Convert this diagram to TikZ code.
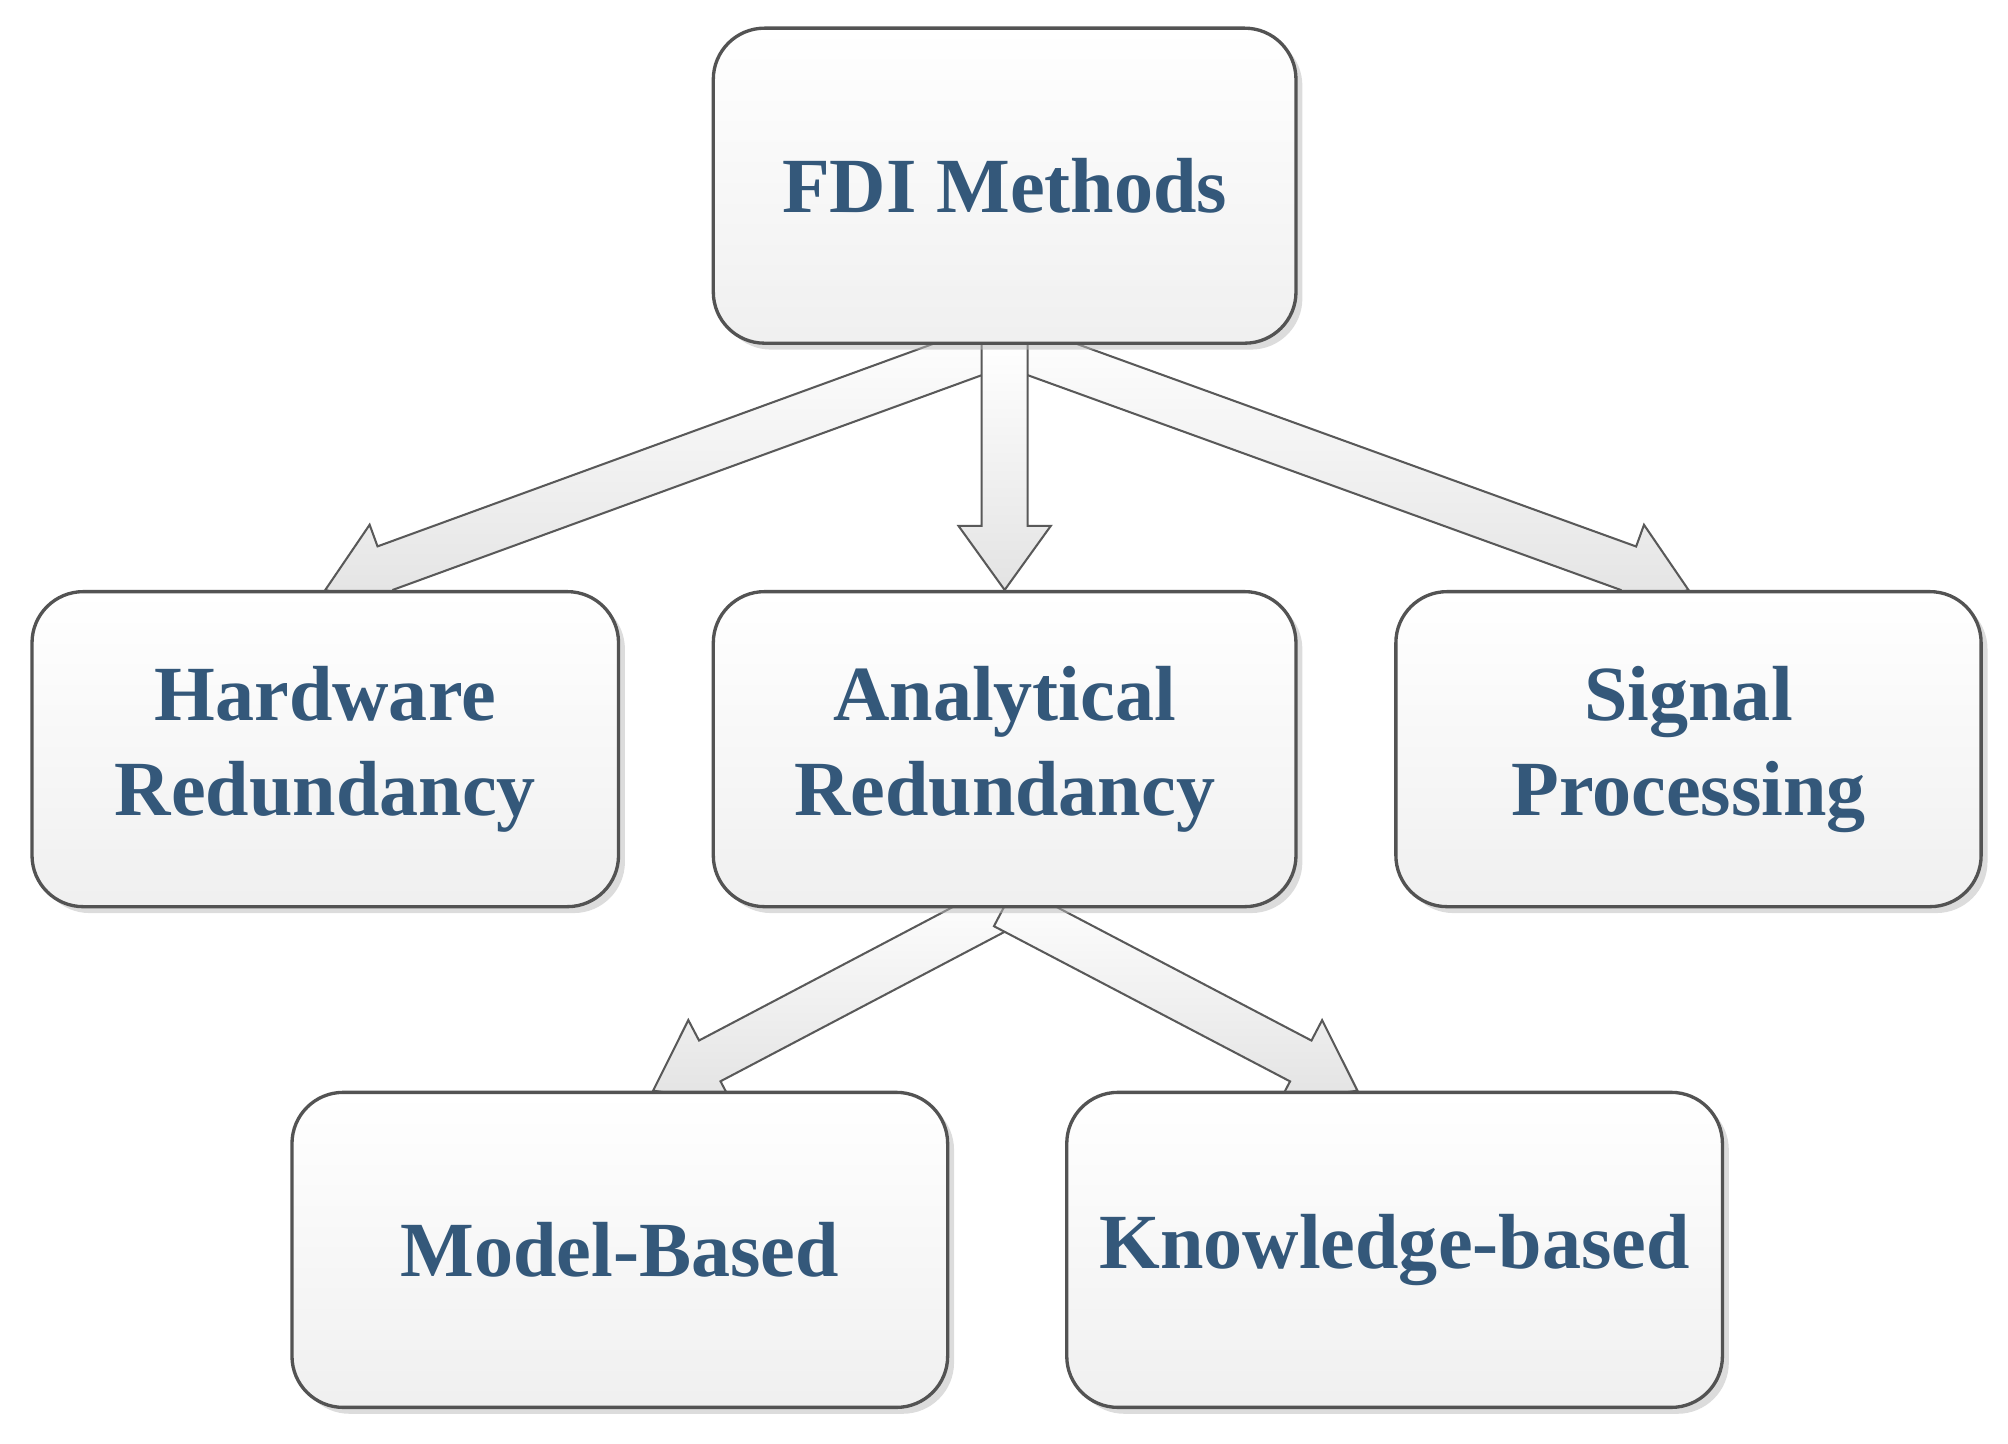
\documentclass[tikz,border=0pt]{standalone}
\usepackage{fontspec}
\setmainfont{Liberation Serif}
\usetikzlibrary{calc,shadows,backgrounds}
\definecolor{txt}{RGB}{52,88,122}
\tikzset{
  box/.style={draw=gray!65!black, line width=1.3pt, rounded corners=20pt,
    top color=white, bottom color=gray!12, minimum width=#1, minimum height=123pt,
    drop shadow={shadow xshift=2.5pt, shadow yshift=-2.5pt, fill=gray!55},
    font=\bfseries\fontsize{30.5}{37}\selectfont, text=txt, align=center},
  barrow/.style={draw=gray!70!black, line width=0.8pt, top color=white, bottom color=gray!22}
}
\newcommand\blockarrow[2]{%
  \coordinate (bS) at (#1); \coordinate (bE) at (#2);
  \coordinate (bH) at ($(bE)!25pt!(bS)$);
  \draw[barrow] ($(bS)!9pt!90:(bE)$) -- ($(bH)!9pt!-90:(bS)$) -- ($(bH)!18pt!-90:(bS)$) -- (bE)
    -- ($(bH)!18pt!90:(bS)$) -- ($(bH)!9pt!90:(bS)$) -- ($(bS)!9pt!-90:(bE)$) -- cycle;}
\begin{document}
\begin{tikzpicture}[x=0.5pt,y=-0.5pt]
\useasboundingbox (0,0) rectangle (1568,1127);
\node[box=227.5pt] (fdi) at (784.5,145) {FDI Methods};
\node[box=229pt] (hw) at (254,585) {Hardware\\Redundancy};
\node[box=227.5pt] (ar) at (784.5,585) {Analytical\\Redundancy};
\node[box=228.5pt] (sp) at (1318.5,585) {Signal\\Processing};
\node[box=256pt] (mb) at (484,976) {Model-Based};
\node[box=256pt] (kb) at (1089,976) {Knowledge-based};
\begin{pgfonlayer}{background}
\blockarrow{$(fdi.south)+(0,-2)$}{hw.north}
\blockarrow{$(fdi.south)+(0,-2)$}{sp.north}
\blockarrow{$(fdi.south)+(0,-2)$}{ar.north}
\blockarrow{$(ar.south)+(0,-2)$}{$(mb.north)+(26,0)$}
\blockarrow{$(ar.south)+(0,-2)$}{$(kb.north)+(-29,0)$}
\end{pgfonlayer}
\end{tikzpicture}
\end{document}
